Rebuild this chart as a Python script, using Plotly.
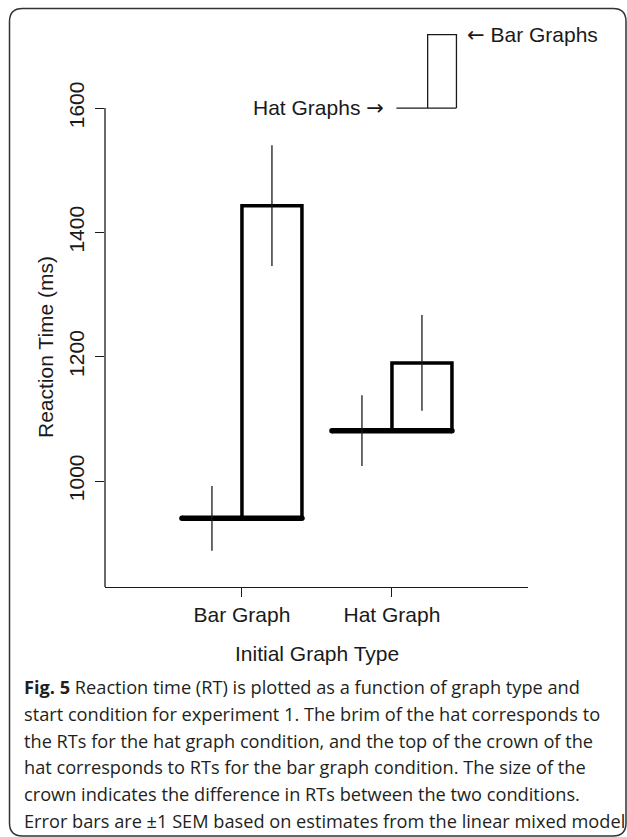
import plotly.graph_objects as go

# ---- data ---------------------------------------------------------------
categories = ["Bar Graph", "Hat Graph"]          # initial graph type
cat_pos = [1, 2]
hat_rt = [940, 1081]      # brim: RT in the hat-graph condition (ms)
bar_rt = [1443, 1190]     # crown top: RT in the bar-graph condition (ms)
hat_sem = [52, 57]        # +/-1 SEM for the hat-graph condition
bar_sem = [97, 77]        # +/-1 SEM for the bar-graph condition
y_ticks = [1000, 1200, 1400, 1600]

# key drawn above the plot region
key_brim_y = 1600
key_crown_top = 1718
key_x = [2.03, 2.238, 2.43]   # brim start, crown left, crown right

caption_lines = [
    "<b>Fig. 5</b> Reaction time (RT) is plotted as a function of graph type and",
    "start condition for experiment 1. The brim of the hat corresponds to",
    "the RTs for the hat graph condition, and the top of the crown of the",
    "hat corresponds to RTs for the bar graph condition. The size of the",
    "crown indicates the difference in RTs between the two conditions.",
    "Error bars are \u00b11 SEM based on estimates from the linear mixed model",
]

# ---- geometry -----------------------------------------------------------
W, H = 627, 837
L, R, T, B = 105, 99, 21, 250
PW, PH = W - L - R, H - T - B
Y_MIN, Y_MAX = 829.5, 1740
X_MIN, X_MAX = 0.087, 2.907
HALF = 0.4          # brim half-width / crown width
ERR_OFF = 0.2       # horizontal offset of the error bars

FONT = "Liberation Sans, Arial, sans-serif"
INK = "#1a1a1a"
ARROW = '<span style="font-family:DejaVu Sans">{}</span>'


def px_x(px):
    return (px - L) / PW


def px_y(py):
    return (H - B - py) / PH


fig = go.Figure()

# crowns: outline boxes from the brim up to the bar-graph RT
fig.add_trace(go.Bar(
    x=cat_pos, base=hat_rt, y=[b - h for b, h in zip(bar_rt, hat_rt)],
    width=HALF, offset=0,
    marker=dict(color="rgba(0,0,0,0)", line=dict(color="black", width=3.5)),
    hoverinfo="skip", showlegend=False,
))

# brims: thick horizontal strokes at the hat-graph RT
bx, by = [], []
for c, h in zip(cat_pos, hat_rt):
    bx += [c - HALF, c + HALF, None]
    by += [h, h, None]
fig.add_trace(go.Scatter(
    x=bx, y=by, mode="lines+markers",
    line=dict(color="black", width=5.5),
    marker=dict(color="black", size=5.5),
    hoverinfo="skip", showlegend=False,
))

# error bars (+/-1 SEM), no caps
fig.add_trace(go.Scatter(
    x=[c - ERR_OFF for c in cat_pos], y=hat_rt, mode="markers",
    marker=dict(size=1, color="rgba(0,0,0,0)"),
    error_y=dict(type="data", array=hat_sem, width=0, thickness=1.3, color=INK),
    hoverinfo="skip", showlegend=False,
))
fig.add_trace(go.Scatter(
    x=[c + ERR_OFF for c in cat_pos], y=bar_rt, mode="markers",
    marker=dict(size=1, color="rgba(0,0,0,0)"),
    error_y=dict(type="data", array=bar_sem, width=0, thickness=1.3, color=INK),
    hoverinfo="skip", showlegend=False,
))

# key: a small hat with labelled brim and crown
fig.add_trace(go.Scatter(
    x=[key_x[0], key_x[2], None, key_x[1], key_x[1], key_x[2], key_x[2]],
    y=[key_brim_y, key_brim_y, None, key_brim_y, key_crown_top, key_crown_top, key_brim_y],
    mode="lines", line=dict(color=INK, width=1.3),
    hoverinfo="skip", showlegend=False,
))

annotations = [
    dict(x=key_x[0] - 0.07, y=key_brim_y, xref="x", yref="y",
         text="Hat Graphs " + ARROW.format("\u2192"), xanchor="right", yanchor="middle",
         showarrow=False, font=dict(family=FONT, size=21, color=INK)),
    dict(x=key_x[2] + 0.06, y=key_crown_top, xref="x", yref="y",
         text=ARROW.format("\u2190") + " Bar Graphs", xanchor="left", yanchor="middle",
         showarrow=False, font=dict(family=FONT, size=21, color=INK)),
    # axis titles
    dict(x=px_x(45), y=px_y(347), xref="paper", yref="paper",
         text="Reaction Time (ms)", textangle=-90, xanchor="center", yanchor="middle",
         showarrow=False, font=dict(family=FONT, size=21, color=INK)),
    dict(x=px_x(316.5), y=px_y(653), xref="paper", yref="paper",
         text="Initial Graph Type", xanchor="center", yanchor="middle",
         showarrow=False, font=dict(family=FONT, size=21, color=INK)),
]

# caption below the chart
for i, line in enumerate(caption_lines):
    annotations.append(dict(
        x=px_x(22), y=px_y(687 + i * 26.8), xref="paper", yref="paper",
        text=line, xanchor="left", yanchor="middle", showarrow=False,
        font=dict(family="Open Sans, sans-serif", size=18.2, color="#231f20"),
    ))

# rounded frame around figure and caption
x0, x1, y0, y1, rr = px_x(9.5), px_x(626), px_y(8.5), px_y(836), 13
rx, ry = rr / PW, rr / PH
frame_path = (
    f"M {x0 + rx},{y0} L {x1 - rx},{y0} Q {x1},{y0} {x1},{y0 - ry} "
    f"L {x1},{y1 + ry} Q {x1},{y1} {x1 - rx},{y1} "
    f"L {x0 + rx},{y1} Q {x0},{y1} {x0},{y1 + ry} "
    f"L {x0},{y0 - ry} Q {x0},{y0} {x0 + rx},{y0} Z"
)

shapes = [
    # left axis line spanning the plot region (bottom to 1600)
    dict(type="line", xref="paper", yref="y", x0=0, x1=0, y0=Y_MIN, y1=y_ticks[-1],
         line=dict(color=INK, width=1.3)),
    dict(type="path", xref="paper", yref="paper", path=frame_path,
         line=dict(color="#333333", width=1.5)),
]

fig.update_layout(
    width=W, height=H,
    margin=dict(l=L, r=R, t=T, b=B, autoexpand=False),
    paper_bgcolor="white", plot_bgcolor="white",
    showlegend=False,
    annotations=annotations,
    shapes=shapes,
    xaxis=dict(
        range=[X_MIN, X_MAX], tickvals=cat_pos, ticktext=categories,
        showline=True, linecolor=INK, linewidth=1.3,
        ticks="outside", ticklen=9, tickwidth=1.3, tickcolor=INK,
        showgrid=False, zeroline=False,
        tickfont=dict(family=FONT, size=21, color=INK),
    ),
    yaxis=dict(
        range=[Y_MIN, Y_MAX], tickvals=y_ticks,
        showline=False, tickangle=-90,
        ticks="outside", ticklen=9, tickwidth=1.3, tickcolor=INK,
        ticklabelstandoff=3,
        showgrid=False, zeroline=False,
        tickfont=dict(family=FONT, size=21, color=INK),
    ),
)

fig.write_html("out.html")
